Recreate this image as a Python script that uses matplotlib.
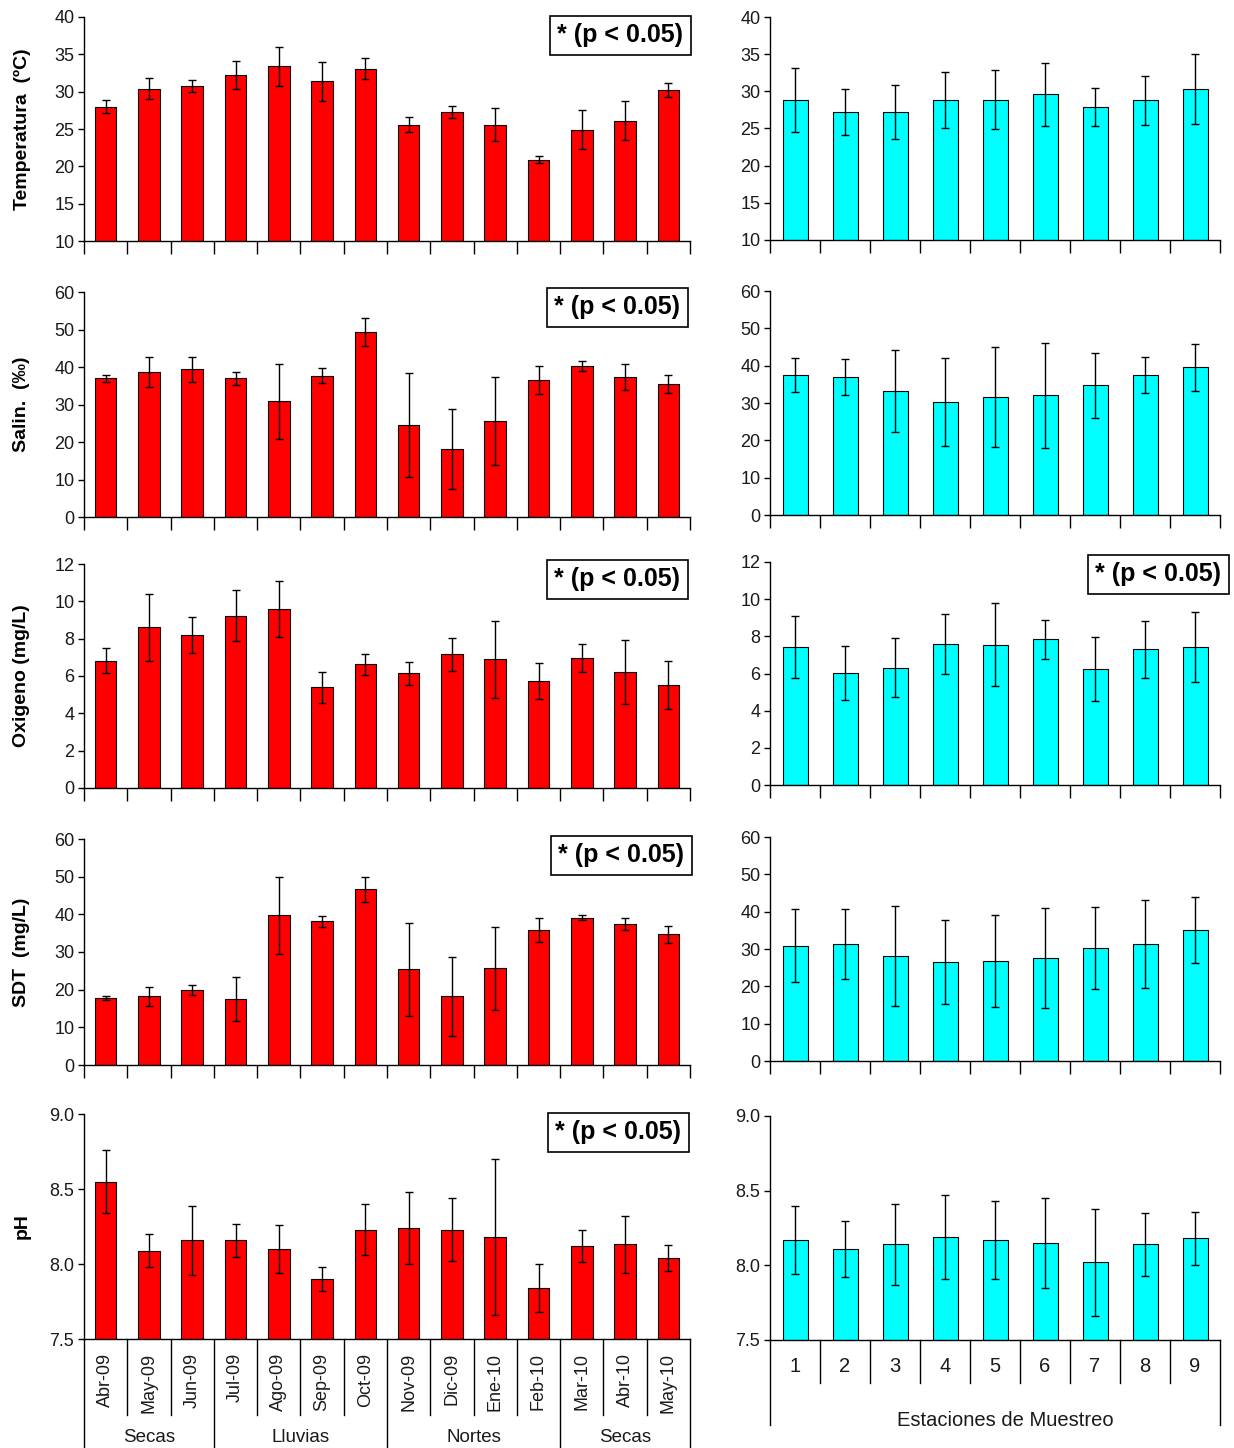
import numpy as np
import matplotlib
matplotlib.use("Agg")
from matplotlib import pyplot as plt

plt.rcParams['font.family'] = ['Liberation Sans', 'DejaVu Sans']

W, H = 1234, 1448

# meses de muestreo y estaciones
months = ['Abr-09', 'May-09', 'Jun-09', 'Jul-09', 'Ago-09', 'Sep-09', 'Oct-09',
          'Nov-09', 'Dic-09', 'Ene-10', 'Feb-10', 'Mar-10', 'Abr-10', 'May-10']
seasons = ['Secas', 'Lluvias', 'Nortes', 'Secas']
season_len = [3, 4, 4, 3]
stations = ['1', '2', '3', '4', '5', '6', '7', '8', '9']

# temperatura
temp_mes = [28.0, 30.4, 30.7, 32.2, 33.4, 31.4, 33.1, 25.6, 27.3, 25.6, 20.9, 24.9, 26.1, 30.2]
temp_mes_err = [0.9, 1.4, 0.8, 1.9, 2.6, 2.6, 1.4, 1.0, 0.8, 2.2, 0.5, 2.6, 2.6, 0.9]
temp_est = [28.8, 27.2, 27.2, 28.8, 28.9, 29.6, 27.9, 28.8, 30.3]
temp_est_err = [4.3, 3.1, 3.6, 3.8, 4.0, 4.2, 2.6, 3.3, 4.7]

# salinidad
sal_mes = [37.0, 38.8, 39.4, 37.0, 30.9, 37.7, 49.3, 24.6, 18.1, 25.6, 36.6, 40.3, 37.3, 35.5]
sal_mes_err = [1.0, 4.0, 3.4, 1.8, 10.0, 2.0, 3.7, 13.8, 10.7, 11.8, 3.7, 1.3, 3.4, 2.4]
sal_est = [37.5, 36.9, 33.1, 30.3, 31.7, 32.1, 34.8, 37.5, 39.6]
sal_est_err = [4.6, 4.8, 11.0, 11.8, 13.4, 14.1, 8.7, 4.8, 6.3]

# oxigeno disuelto
oxi_mes = [6.83, 8.61, 8.20, 9.24, 9.57, 5.39, 6.62, 6.14, 7.17, 6.89, 5.73, 6.96, 6.21, 5.52]
oxi_mes_err = [0.68, 1.80, 0.96, 1.35, 1.50, 0.82, 0.55, 0.62, 0.89, 2.06, 0.96, 0.76, 1.73, 1.31]
oxi_est = [7.43, 6.03, 6.31, 7.57, 7.55, 7.84, 6.26, 7.30, 7.43]
oxi_est_err = [1.65, 1.47, 1.60, 1.61, 2.24, 1.04, 1.72, 1.52, 1.88]

# solidos disueltos totales
sdt_mes = [17.8, 18.2, 19.9, 17.5, 39.8, 38.1, 46.7, 25.4, 18.2, 25.7, 35.8, 39.1, 37.4, 34.7]
sdt_mes_err = [0.6, 2.5, 1.4, 5.8, 10.2, 1.4, 3.3, 12.3, 10.6, 11.0, 3.2, 0.7, 1.6, 2.3]
sdt_est = [30.9, 31.3, 28.2, 26.5, 26.8, 27.5, 30.3, 31.3, 35.1]
sdt_est_err = [9.7, 9.3, 13.4, 11.3, 12.4, 13.4, 11.0, 11.7, 8.8]

# pH
ph_mes = [8.55, 8.09, 8.16, 8.16, 8.10, 7.90, 8.23, 8.24, 8.23, 8.18, 7.84, 8.12, 8.13, 8.04]
ph_mes_err = [0.21, 0.11, 0.23, 0.11, 0.16, 0.08, 0.17, 0.24, 0.21, 0.52, 0.16, 0.105, 0.19, 0.087]
ph_est = [8.17, 8.11, 8.14, 8.19, 8.17, 8.15, 8.02, 8.14, 8.18]
ph_est_err = [0.23, 0.19, 0.27, 0.28, 0.26, 0.30, 0.36, 0.21, 0.18]

ylabels = ['Temperatura  (ºC)', 'Salin.  (‰)', 'Oxigeno (mg/L)', 'SDT  (mg/L)', 'pH']
yranges = [(10, 40, 5), (0, 60, 10), (0, 12, 2), (0, 60, 10), (7.5, 9.0, 0.5)]
left_data = [(temp_mes, temp_mes_err), (sal_mes, sal_mes_err), (oxi_mes, oxi_mes_err),
             (sdt_mes, sdt_mes_err), (ph_mes, ph_mes_err)]
right_data = [(temp_est, temp_est_err), (sal_est, sal_est_err), (oxi_est, oxi_est_err),
              (sdt_est, sdt_est_err), (ph_est, ph_est_err)]

# posiciones de los paneles en pixeles (arriba, abajo)
left_rows = [(17, 241), (292, 517), (564, 788), (839, 1065), (1114, 1339)]
right_rows = [(17, 240), (291, 515), (562, 785), (837, 1061), (1116, 1340)]
LX = (84, 690)
RX = (770, 1220)

# cajas de significancia: (centro x, centro y)
sig_boxes = [(620, 35), (617, 307), (617, 579), (1158, 574), (621, 855), (618, 1132)]

fig = plt.figure(figsize=(W / 100, H / 100), dpi=100)


def add_ax(xs, ys):
    l, r = xs
    t, b = ys
    return fig.add_axes([l / W, 1 - b / H, (r - l) / W, (b - t) / H])


def ftext(x, y, s, **kw):
    fig.text(x / W, 1 - y / H, s, **kw)


def draw_panel(ax, vals, errs, color, yr, bottom_row):
    n = len(vals)
    x = np.arange(n)
    ax.bar(x, vals, width=0.5, color=color, edgecolor='black', linewidth=0.8,
           yerr=errs, capsize=3, error_kw=dict(elinewidth=1, capthick=1, ecolor='black'))
    lo, hi, step = yr
    ax.set_xlim(-0.5, n - 0.5)
    ax.set_ylim(lo, hi)
    ticks = np.arange(lo, hi + step / 2, step)
    ax.set_yticks(ticks)
    if lo == 7.5:
        ax.set_yticklabels(['%.1f' % v for v in ticks])
    ax.spines['top'].set_visible(False)
    ax.spines['right'].set_visible(False)
    for s in ['left', 'bottom']:
        ax.spines[s].set_linewidth(1)
    ax.tick_params(axis='y', direction='out', length=4, width=1, labelsize=13,
                   labelcolor='#1a1a1a', pad=3)
    ax.set_xticks(np.arange(n + 1) - 0.5)
    ax.set_xticklabels([])
    if bottom_row:
        ax.tick_params(axis='x', length=0)
    else:
        ax.tick_params(axis='x', direction='out', length=9.4, width=1)


for i in range(5):
    axl = add_ax(LX, left_rows[i])
    draw_panel(axl, left_data[i][0], left_data[i][1], '#ff0000', yranges[i], i == 4)
    axr = add_ax(RX, right_rows[i])
    draw_panel(axr, right_data[i][0], right_data[i][1], '#00ffff', yranges[i], i == 4)
    t, b = left_rows[i]
    ftext(22, (t + b) / 2, ylabels[i], rotation=90, ha='center', va='center',
          fontsize=14, fontweight='bold')

    if i == 4:
        # eje de categorias de dos niveles (meses / temporadas)
        h_l = b - t
        bounds = np.cumsum([0] + season_len)
        for k in range(len(months) + 1):
            depth = 109 if k in bounds else 76
            axl.plot([k - 0.5, k - 0.5], [0, -depth / h_l], color='black', lw=1,
                     transform=axl.get_xaxis_transform(), clip_on=False)
        for k, m in enumerate(months):
            xp = LX[0] + (k + 0.5) * (LX[1] - LX[0]) / len(months)
            ftext(xp, b + 14, m, rotation=90, ha='center', va='top', fontsize=13,
                  color='#1a1a1a')
        for k, s in enumerate(seasons):
            mid = (bounds[k] + bounds[k + 1]) / 2
            xp = LX[0] + mid * (LX[1] - LX[0]) / len(months)
            ftext(xp, 1438, s, ha='center', va='center', fontsize=13.5, color='#1a1a1a')

        t, b = right_rows[i]
        h_r = b - t
        for k in range(len(stations) + 1):
            depth = 85 if k in (0, len(stations)) else 43
            axr.plot([k - 0.5, k - 0.5], [0, -depth / h_r], color='black', lw=1,
                     transform=axr.get_xaxis_transform(), clip_on=False)
        for k, s in enumerate(stations):
            xp = RX[0] + (k + 0.5) * (RX[1] - RX[0]) / len(stations)
            ftext(xp, 1366, s, ha='center', va='center', fontsize=14.5, color='#1a1a1a')
        ftext(1005, 1420, 'Estaciones de Muestreo', ha='center', va='center',
              fontsize=14.5, color='#1a1a1a')

for cx, cy in sig_boxes:
    ftext(cx, cy, '* (p < 0.05)', ha='center', va='center', fontsize=18,
          fontweight='bold', family=['Liberation Sans Narrow', 'Liberation Sans'],
          bbox=dict(boxstyle='square,pad=0.3', facecolor='white', edgecolor='black',
                    linewidth=1.2))

fig.savefig('out.png', dpi=100)
